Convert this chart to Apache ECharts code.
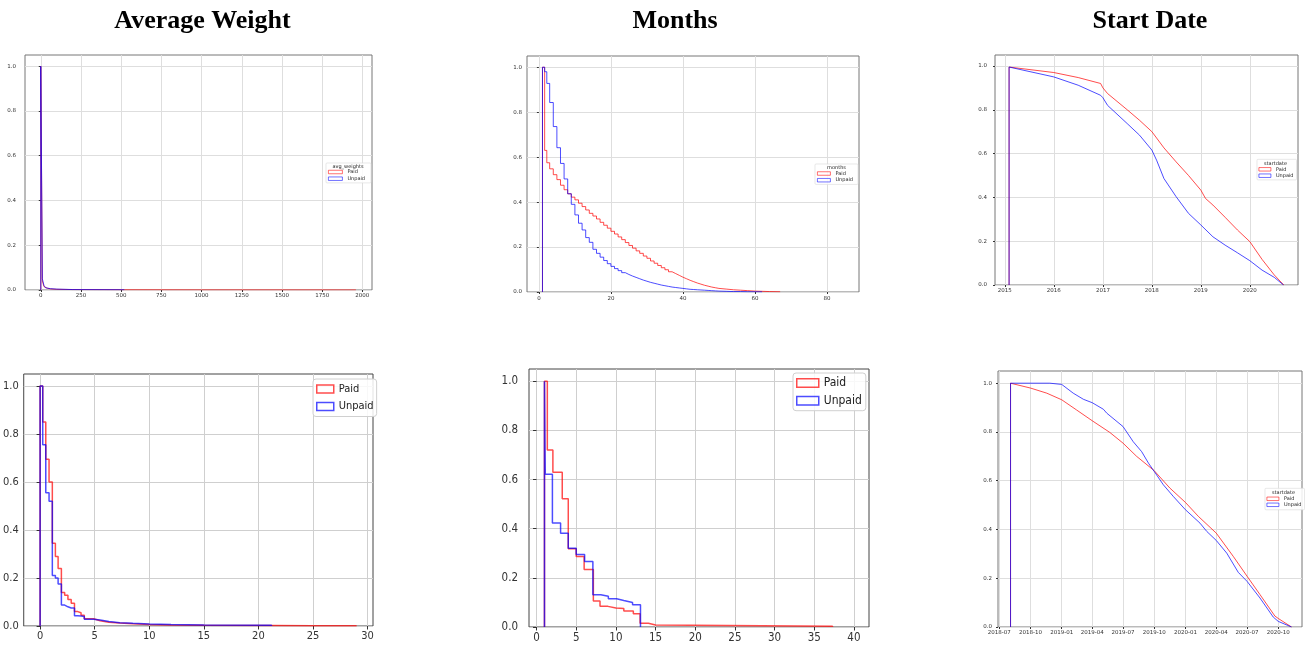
<!DOCTYPE html>
<html>
<head>
<meta charset="utf-8">
<title>Paid vs Unpaid</title>
<script src="https://cdn.jsdelivr.net/npm/echarts@6/dist/echarts.min.js"></script>
<style>
    * { margin: 0; padding: 0; }
    body { background: #fff; }
    #main { width: 1306px; height: 649px; }
</style>
</head>
<body>
<div id="main"></div>
<script>
    // ---- data ----
    const panelTitles = ['Average Weight', 'Months', 'Start Date'];
    const seriesNames = ['Paid', 'Unpaid'];
    const shareTicks = [0, 0.2, 0.4, 0.6, 0.8, 1.0];

    // avg_weights, whole range: bin edges, share of rows at or above each edge
    const awAllEdges = [0, 10, 20, 30, 40, 60, 100, 200, 520, 1000, 1960];
    const awAllPaid = [1.0, 0.04, 0.015, 0.008, 0.005, 0.003, 0.002, 0.001, 0.0005, 0.0003];
    const awAllUnpaid = [1.0, 0.05, 0.02, 0.01, 0.006, 0.004, 0.002, 0.001];
    const awAllTicks = [0, 250, 500, 750, 1000, 1250, 1500, 1750, 2000];

    // months, whole range
    const monAllEdges = [1, 1.6, 2.2, 3, 4, 5, 6, 7, 8, 9, 10, 11, 12, 13, 14, 15, 16, 17, 18, 19, 20,
        21, 22, 23, 24, 25, 26, 27, 28, 29, 30, 31, 32, 33, 34, 35, 36, 37, 38, 39, 40,
        41, 42, 43, 44, 45, 46, 47, 48, 49, 50, 52, 54, 56, 58, 60, 62, 64, 67];
    const monAllPaid = [1.0, 0.63, 0.575, 0.548, 0.522, 0.5, 0.475, 0.455, 0.437, 0.422,
        0.41, 0.395, 0.38, 0.365, 0.35, 0.338, 0.325, 0.31, 0.297, 0.284,
        0.27, 0.258, 0.245, 0.233, 0.22, 0.207, 0.195, 0.183, 0.172, 0.16,
        0.15, 0.138, 0.128, 0.118, 0.108, 0.099, 0.09, 0.082, 0.074, 0.066,
        0.059, 0.052, 0.046, 0.04, 0.035, 0.03, 0.026, 0.022, 0.019, 0.016,
        0.013, 0.01, 0.008, 0.006, 0.004, 0.003, 0.002, 0.001];
    const monAllUnpaid = [1.0, 0.98, 0.928, 0.843, 0.736, 0.642, 0.572, 0.503, 0.437, 0.39,
        0.343, 0.306, 0.276, 0.242, 0.221, 0.19, 0.172, 0.155, 0.14, 0.126,
        0.114, 0.104, 0.095, 0.086, 0.078, 0.071, 0.065, 0.059, 0.053, 0.048,
        0.043, 0.039, 0.035, 0.031, 0.028, 0.025, 0.022, 0.02, 0.018, 0.016,
        0.014, 0.012, 0.011, 0.01, 0.009, 0.008, 0.007, 0.006, 0.005, 0.004,
        0.003, 0.002, 0.002, 0.001, 0.001, 0.0005];
    const monAllTicks = [0, 20, 40, 60, 80];

    // startdate, whole range
    const sdAllPaidDates = ['2015-02-02', '2016-01-01', '2016-07-01', '2016-12-15', '2017-01-01', '2017-02-05',
        '2017-07-01', '2017-10-01', '2018-01-01', '2018-04-01', '2018-07-01', '2018-10-01', '2019-01-01',
        '2019-02-05', '2019-04-01', '2019-07-01', '2019-10-01', '2020-01-01', '2020-04-01', '2020-07-01', '2020-09-10'];
    const sdAllPaid = [0.995, 0.97, 0.947, 0.92, 0.9, 0.874, 0.8, 0.752, 0.7, 0.626, 0.562, 0.5, 0.433,
        0.395, 0.365, 0.309, 0.251, 0.198, 0.117, 0.046, 0];
    const sdAllUnpaidDates = ['2015-02-02', '2016-01-01', '2016-07-01', '2016-12-15', '2017-01-01', '2017-02-05',
        '2017-07-01', '2017-10-01', '2018-01-01', '2018-02-05', '2018-04-01', '2018-07-01', '2018-10-01',
        '2019-01-01', '2019-04-01', '2019-07-01', '2019-10-01', '2020-01-01', '2020-04-01', '2020-07-01', '2020-09-08'];
    const sdAllUnpaid = [0.995, 0.95, 0.912, 0.866, 0.855, 0.82, 0.737, 0.684, 0.616, 0.57, 0.486, 0.403,
        0.327, 0.274, 0.22, 0.182, 0.147, 0.111, 0.068, 0.035, 0];
    const sdAllTicks = ['2015-01-01', '2016-01-01', '2017-01-01', '2018-01-01', '2019-01-01', '2020-01-01'];

    // avg_weights, 0 - 30
    const awEdges = [0, 0.24, 0.52, 0.82, 1.12, 1.4, 1.65, 1.95, 2.25, 2.55, 2.85, 3.15, 3.45, 3.75, 4.05,
        4.9, 5.5, 6.3, 7.3, 8.5, 10, 12, 15, 21.2, 25, 29];
    const awPaid = [1.0, 0.85, 0.695, 0.6, 0.345, 0.29, 0.24, 0.14, 0.128, 0.11, 0.095, 0.06, 0.055, 0.045,
        0.03, 0.022, 0.016, 0.012, 0.009, 0.006, 0.004, 0.003, 0.002, 0.0015, 0.001];
    const awUnpaid = [1.0, 0.755, 0.555, 0.52, 0.21, 0.2, 0.175, 0.087, 0.08, 0.075, 0.075, 0.043, 0.042,
        0.04, 0.028, 0.025, 0.019, 0.014, 0.011, 0.008, 0.006, 0.004, 0.003];
    const awTicks = [0, 5, 10, 15, 20, 25, 30];

    // months, 1 - 40
    const monPaidEdges = [1, 1.36, 2.06, 3.24, 4.0, 5.0, 6.0, 7.16, 8.0, 9.0, 10.0, 11.0, 12.2, 13.05, 14.1, 15.0, 37.3];
    const monPaid = [1.0, 0.72, 0.63, 0.522, 0.318, 0.287, 0.234, 0.106, 0.084, 0.077, 0.075, 0.065, 0.054,
        0.015, 0.008, 0.003];
    const monUnpaidEdges = [1, 1.1, 2.0, 3.03, 4.0, 5.0, 6.06, 7.1, 8.1, 9.05, 10.1, 11.0, 12.1, 13.1];
    const monUnpaid = [1.0, 0.622, 0.423, 0.382, 0.321, 0.295, 0.267, 0.131, 0.125, 0.115, 0.108, 0.1, 0.091];
    const monTicks = [0, 5, 10, 15, 20, 25, 30, 35, 40];

    // startdate, 2018-07 onwards
    const sdPaidDates = ['2018-08-03', '2018-10-01', '2018-11-18', '2019-01-01', '2019-02-14', '2019-04-01',
        '2019-05-23', '2019-07-01', '2019-08-10', '2019-10-01', '2019-11-16', '2020-01-01', '2020-02-08',
        '2020-04-01', '2020-05-21', '2020-07-01', '2020-08-08', '2020-09-21', '2020-10-01', '2020-11-09'];
    const sdPaid = [1.0, 0.98, 0.959, 0.932, 0.89, 0.846, 0.798, 0.754, 0.7, 0.641, 0.57, 0.511, 0.454,
        0.385, 0.29, 0.208, 0.133, 0.045, 0.035, 0];
    const sdUnpaidDates = ['2018-08-03', '2018-11-27', '2019-01-01', '2019-02-04', '2019-03-06', '2019-04-01',
        '2019-05-04', '2019-05-14', '2019-07-01', '2019-07-31', '2019-08-25', '2019-09-14', '2019-10-01',
        '2019-10-28', '2019-11-26', '2020-01-01', '2020-02-13', '2020-03-04', '2020-04-01', '2020-05-02',
        '2020-06-05', '2020-07-01', '2020-08-08', '2020-09-16', '2020-10-01', '2020-11-09'];
    const sdUnpaid = [1.0, 1.0, 0.995, 0.959, 0.934, 0.92, 0.893, 0.877, 0.822, 0.76, 0.719, 0.672, 0.638,
        0.583, 0.536, 0.481, 0.426, 0.392, 0.355, 0.303, 0.224, 0.187, 0.119, 0.041, 0.023, 0];
    const sdTicks = ['2018-07-01', '2018-10-01', '2019-01-01', '2019-04-01', '2019-07-01', '2019-10-01',
        '2020-01-01', '2020-04-01', '2020-07-01', '2020-10-01'];

    // ---- helpers ----
    // outline of a reverse-cumulative step histogram
    function stepPoints(edges, vals) {
        let pts = [[edges[0], 0]];
        vals.forEach((v, i) => pts.push([edges[i], v]));
        pts.push([edges[vals.length], vals[vals.length - 1]]);
        pts.push([edges[vals.length], 0]);
        return pts;
    }
    function datePoints(dates, vals) {
        let pts = [[Date.parse(dates[0]), 0]];
        dates.forEach((d, i) => pts.push([Date.parse(d), vals[i]]));
        return pts;
    }
    function pad2(n) { return n < 10 ? '0' + n : '' + n; }

    const RED = 'rgba(255,0,0,0.7)';
    const BLUE = 'rgba(0,0,255,0.7)';
    const NARROW = "'Liberation Sans Narrow', 'DejaVu Sans Condensed', sans-serif";
    const SMALL = "'DejaVu Sans', sans-serif";

    const panels = [
        {
            grid: {left: 25, top: 55, width: 347, height: 235},
            xMin: -98, xMax: 2060, xTicks: awAllTicks, xFmt: v => String(v),
            paid: stepPoints(awAllEdges, awAllPaid), unpaid: stepPoints(awAllEdges.slice(0, awAllUnpaid.length + 1), awAllUnpaid),
            step: 'end', lineW: 1, font: 5.5, family: SMALL, xMargin: 3, yMargin: 9, tickLen: 2,
            frame: '#777', gridColor: '#dedede',
            legend: {left: 326, top: 163, title: 'avg_weights', titleX: 348, titleY: 166.3, fontSize: 5,
                itemWidth: 14, itemHeight: 3.5, itemGap: 1.7, padding: [6.5, 6, 1.7, 2], border: '#d8d8d8', bw: 0.6, r: 1}
        },
        {
            grid: {left: 527, top: 56, width: 332, height: 236},
            xMin: -3.3, xMax: 88.9, xTicks: monAllTicks, xFmt: v => String(v),
            paid: stepPoints(monAllEdges, monAllPaid), unpaid: stepPoints(monAllEdges.slice(0, monAllUnpaid.length + 1), monAllUnpaid),
            step: 'end', lineW: 1, font: 5.5, family: SMALL, xMargin: 4, yMargin: 5, tickLen: 2,
            frame: '#777', gridColor: '#dedede',
            legend: {left: 815, top: 164, title: 'months', titleX: 836.5, titleY: 167.5, fontSize: 5,
                itemWidth: 13, itemHeight: 3.5, itemGap: 1.7, padding: [7, 5, 1.7, 2], border: '#d8d8d8', bw: 0.6, r: 1}
        },
        {
            grid: {left: 995, top: 55, width: 303, height: 230},
            xMin: Date.parse('2014-10-20'), xMax: Date.parse('2020-12-25'), xTicks: sdAllTicks.map(d => Date.parse(d)),
            xFmt: v => String(new Date(v).getUTCFullYear()),
            paid: datePoints(sdAllPaidDates, sdAllPaid), unpaid: datePoints(sdAllUnpaidDates, sdAllUnpaid),
            step: false, lineW: 1, font: 5.5, family: SMALL, xMargin: 2.5, yMargin: 8, tickLen: 2,
            frame: '#777', gridColor: '#dedede',
            legend: {left: 1257, top: 159.3, title: 'startdate', titleX: 1275.5, titleY: 163.3, fontSize: 5,
                itemWidth: 12, itemHeight: 3.5, itemGap: 1.4, padding: [7.5, 3, 1.7, 1.5], border: '#d8d8d8', bw: 0.6, r: 1}
        },
        {
            grid: {left: 23, top: 374, width: 350, height: 252},
            xMin: -1.5, xMax: 30.5, xTicks: awTicks, xFmt: v => String(v),
            paid: stepPoints(awEdges, awPaid), unpaid: stepPoints(awEdges.slice(0, awUnpaid.length + 1), awUnpaid),
            step: 'end', lineW: 1.5, font: 11, family: NARROW, xMargin: 5, yMargin: 5, tickLen: 3.5,
            frame: '#444', gridColor: '#cfcfcf',
            legend: {left: 313, top: 379, fontSize: 11, family: NARROW,
                itemWidth: 17, itemHeight: 8, itemGap: 6.5, padding: [4.5, 3, 4.5, 3], border: '#d0d0d0', bw: 1, r: 3}
        },
        {
            grid: {left: 529, top: 369, width: 340, height: 258},
            xMin: -0.95, xMax: 41.9, xTicks: monTicks, xFmt: v => String(v),
            paid: stepPoints(monPaidEdges, monPaid), unpaid: stepPoints(monUnpaidEdges, monUnpaid),
            step: 'end', lineW: 1.5, font: 11.5, family: NARROW, xMargin: 5, yMargin: 11, tickLen: 3.5,
            frame: '#444', gridColor: '#cfcfcf',
            legend: {left: 793, top: 373, fontSize: 12, family: NARROW,
                itemWidth: 22, itemHeight: 8.5, itemGap: 5.7, padding: [4, 4, 4, 3], border: '#d0d0d0', bw: 1, r: 3}
        },
        {
            grid: {left: 998, top: 371, width: 304, height: 256},
            xMin: Date.parse('2018-06-27'), xMax: Date.parse('2020-12-10'), xTicks: sdTicks.map(d => Date.parse(d)),
            xFmt: v => { let d = new Date(v); return d.getUTCFullYear() + '-' + pad2(d.getUTCMonth() + 1); },
            paid: datePoints(sdPaidDates, sdPaid), unpaid: datePoints(sdUnpaidDates, sdUnpaid),
            step: false, lineW: 1, font: 5.5, family: SMALL, xMargin: 3, yMargin: 6, tickLen: 2,
            frame: '#777', gridColor: '#dedede',
            legend: {left: 1265, top: 488.3, title: 'startdate', titleX: 1283.5, titleY: 492.7, fontSize: 5,
                itemWidth: 12, itemHeight: 3.5, itemGap: 1, padding: [8, 3, 2.5, 1.5], border: '#d8d8d8', bw: 0.6, r: 1}
        }
    ];

    let grid = [], xAxis = [], yAxis = [], series = [], legend = [];
    let graphic = [
        {x: 202.5, title: panelTitles[0]},
        {x: 675, title: panelTitles[1]},
        {x: 1150, title: panelTitles[2]}
    ].map(t => ({
        type: 'text', x: t.x, y: 21,
        style: {text: t.title, fill: '#000', font: 'bold 26px "Liberation Serif", "Times New Roman", serif',
            align: 'center', verticalAlign: 'middle'}
    }));

    panels.forEach((p, i) => {
        grid.push(Object.assign({show: true, borderColor: p.frame, borderWidth: 1, backgroundColor: '#fff'}, p.grid));
        xAxis.push({
            type: 'value', gridIndex: i, min: p.xMin, max: p.xMax,
            axisLine: {show: false},
            axisTick: {show: true, customValues: p.xTicks, length: p.tickLen, lineStyle: {color: '#333'}},
            axisLabel: {customValues: p.xTicks, formatter: p.xFmt, fontSize: p.font, fontFamily: p.family,
                color: '#333', margin: p.xMargin},
            splitLine: {show: true, lineStyle: {color: p.gridColor, width: 1}}
        });
        yAxis.push({
            type: 'value', gridIndex: i, min: 0, max: 1.05,
            axisLine: {show: false},
            axisTick: {show: true, customValues: shareTicks, length: p.tickLen, lineStyle: {color: '#333'}},
            axisLabel: {customValues: shareTicks, formatter: v => v.toFixed(1), fontSize: p.font, fontFamily: p.family,
                color: '#333', margin: p.yMargin},
            splitLine: {show: true, lineStyle: {color: p.gridColor, width: 1}}
        });
        [[seriesNames[0], p.paid, RED], [seriesNames[1], p.unpaid, BLUE]].forEach(s => {
            series.push({
                type: 'line', name: s[0], xAxisIndex: i, yAxisIndex: i, data: s[1],
                step: p.step, symbol: 'none', showSymbol: false, animation: false,
                lineStyle: {color: s[2], width: p.lineW}, itemStyle: {color: s[2]},
                emphasis: {disabled: true}
            });
        });
        let L = p.legend;
        legend.push({
            orient: 'vertical', left: L.left, top: L.top, padding: L.padding,
            itemWidth: L.itemWidth, itemHeight: L.itemHeight, itemGap: L.itemGap,
            backgroundColor: 'rgba(255,255,255,0.85)', borderColor: L.border, borderWidth: L.bw, borderRadius: L.r,
            selectedMode: false,
            textStyle: {fontSize: L.fontSize, lineHeight: L.fontSize, color: '#222', fontFamily: L.family || SMALL},
            data: [
                {name: seriesNames[0], icon: 'rect', itemStyle: {color: 'rgba(0,0,0,0)', borderColor: RED, borderWidth: L.bw > 0.8 ? 1.5 : 0.8}},
                {name: seriesNames[1], icon: 'rect', itemStyle: {color: 'rgba(0,0,0,0)', borderColor: BLUE, borderWidth: L.bw > 0.8 ? 1.5 : 0.8}}
            ]
        });
        if (L.title) {
            graphic.push({
                type: 'text', x: L.titleX, y: L.titleY, z: 100,
                style: {text: L.title, fill: '#222', font: L.fontSize + 'px "DejaVu Sans", sans-serif',
                    align: 'center', verticalAlign: 'middle'}
            });
        }
    });

    let myChart = echarts.init(document.getElementById('main'));
    myChart.setOption({
        animation: false,
        backgroundColor: '#fff',
        grid: grid,
        xAxis: xAxis,
        yAxis: yAxis,
        legend: legend,
        series: series,
        graphic: graphic
    });
</script>
</body>
</html>
